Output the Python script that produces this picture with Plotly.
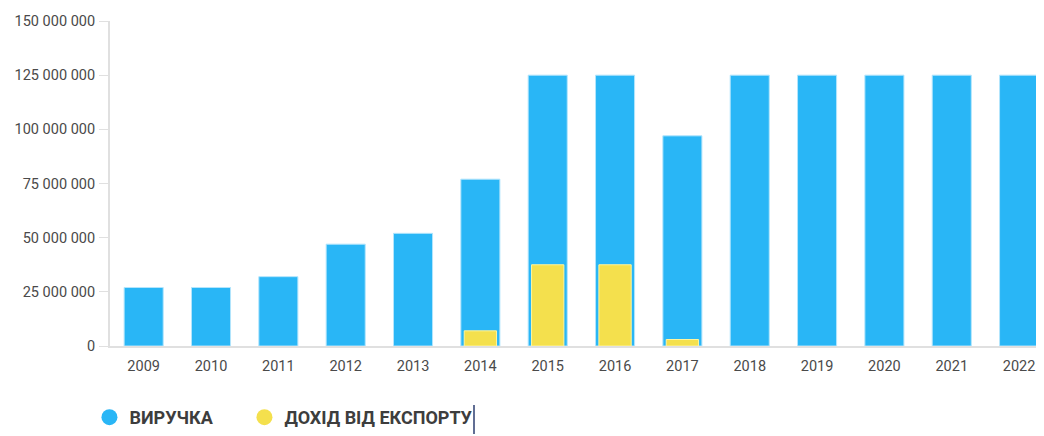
import plotly.graph_objects as go

years = ["2009", "2010", "2011", "2012", "2013", "2014", "2015", "2016",
         "2017", "2018", "2019", "2020", "2021", "2022"]
revenue = [27_000_000, 27_000_000, 32_000_000, 47_000_000, 52_000_000, 77_000_000,
           125_000_000, 125_000_000, 97_000_000, 125_000_000, 125_000_000,
           125_000_000, 125_000_000, 125_000_000]
export_income = [None, None, None, None, None, 7_000_000, 37_500_000, 37_500_000,
                 3_000_000, None, None, None, None, None]
y_ticks = [0, 25_000_000, 50_000_000, 75_000_000, 100_000_000, 125_000_000, 150_000_000]
series_names = ["ВИРУЧКА", "ДОХІД ВІД ЕКСПОРТУ"]

BLUE = "#29B6F6"
YELLOW = "#F4E04D"
PLOT_W = 934
PLOT_H = 325

fig = go.Figure()
fig.add_trace(go.Bar(x=years, y=revenue, name=series_names[0], marker_color=BLUE,
                     marker_line=dict(color="#b3e5fc", width=1), width=0.58,
                     showlegend=False, hoverinfo="x+y"))
fig.add_trace(go.Bar(x=years, y=export_income, name=series_names[1], marker_color=YELLOW,
                     marker_line=dict(color="#fff59d", width=1), width=0.48,
                     showlegend=False, hoverinfo="x+y"))
# legend entries with round markers
fig.add_trace(go.Scatter(x=[None], y=[None], mode="markers", name=series_names[0],
                         marker=dict(color=BLUE, size=18, symbol="circle"), legend="legend"))
fig.add_trace(go.Scatter(x=[None], y=[None], mode="markers", name=series_names[1],
                         marker=dict(color=YELLOW, size=18, symbol="circle"), legend="legend2"))

legend_font = dict(family="Roboto, sans-serif", size=18, color="#3d3d3d", weight="bold")
fig.update_layout(
    width=1036, height=428,
    margin=dict(l=102, r=0, t=13, b=90),
    paper_bgcolor="white", plot_bgcolor="white",
    barmode="overlay",
    separators=". ",
    font=dict(family="Roboto, sans-serif", size=14, color="#4a4a4a"),
    xaxis=dict(range=[-0.5, 13.37], showgrid=False, showline=True, linecolor="#e0e0e0",
               linewidth=2, ticks="", ticklabelstandoff=6,
               tickfont=dict(size=14.5, color="#4a4a4a")),
    yaxis=dict(range=[0, 150_000_000], tickvals=y_ticks, tickformat=",d",
               showgrid=False, zeroline=False, showline=True, linecolor="#e0e0e0",
               linewidth=2, ticks="outside", ticklen=9, tickcolor="#e0e0e0",
               tickwidth=1, ticklabelstandoff=1, tickfont=dict(size=14.5, color="#4a4a4a")),
    legend=dict(orientation="h", x=-0.022, xanchor="left", y=-0.2215, yanchor="middle",
                bgcolor="rgba(0,0,0,0)", font=legend_font),
    legend2=dict(orientation="h", x=-0.022 + (263 - 108) / PLOT_W, xanchor="left",
                 y=-0.2215, yanchor="middle", bgcolor="rgba(0,0,0,0)", font=legend_font),
    showlegend=True,
)
# caret-like vertical line after the legend text
fig.add_shape(type="line", xref="paper", yref="paper",
              x0=(474 - 110) / PLOT_W, x1=(474 - 110) / PLOT_W,
              y0=(346 - 405) / PLOT_H, y1=(346 - 434) / PLOT_H,
              line=dict(color="#2c3e70", width=1.5))

fig.write_html("out.html")
